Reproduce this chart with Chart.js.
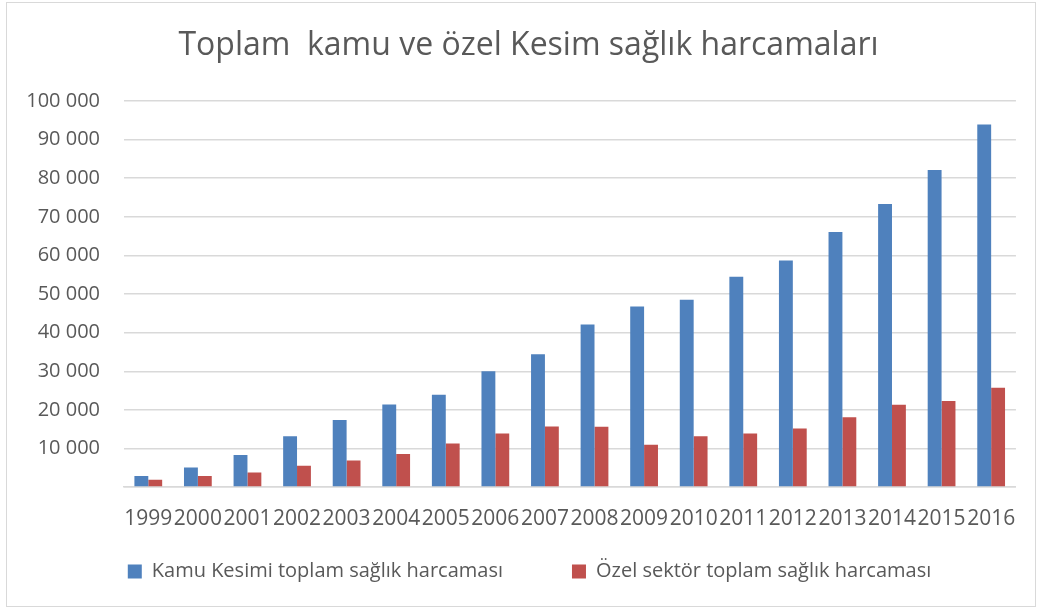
<!DOCTYPE html>
<html>
<head>
<meta charset="utf-8">
<script src="https://cdn.jsdelivr.net/npm/chart.js@4"></script>
<style>
  body { margin: 0; background: #fff; }
  #box { position: absolute; left: 6px; top: 2px; width: 1028px; height: 603px; border: 1px solid #d9d9d9; }
</style>
</head>
<body>
<div id="box"><canvas id="c" width="1028" height="603"></canvas></div>
<script>
// veriler
const years = ["1999","2000","2001","2002","2003","2004","2005","2006","2007","2008","2009","2010","2011","2012","2013","2014","2015","2016"];
const kamu = [2900, 5050, 8300, 13200, 17400, 21400, 23900, 30000, 34400, 42100, 46800, 48500, 54500, 58700, 66100, 73300, 82100, 93900];
const ozel = [1900, 2900, 3800, 5500, 6900, 8600, 11300, 13900, 15700, 15600, 11000, 13200, 13900, 15200, 18100, 21300, 22300, 25700];
const seriesNames = ["Kamu Kesimi toplam sağlık harcaması", "Özel sektör toplam sağlık harcaması"];
const chartTitle = "Toplam  kamu ve özel Kesim sağlık harcamaları";

const txt = "#595959";
const fam = "'Open Sans', sans-serif";

function fmt(v) {
    return String(v).replace(/\B(?=(\d{3})+(?!\d))/g, " ");
}

// legend ve başlığı biraz kaydır (Excel yerleşimine yakın olsun)
const nudge = {
    id: "nudge",
    afterLayout(chart) {
        const lg = chart.legend;
        lg.top -= 36; lg.bottom -= 36;
        lg.left += 11; lg.right += 11;
        const t = chart.titleBlock;
        t.left += 10; t.right += 10;
    }
};

new Chart(document.getElementById("c"), {
    type: "bar",
    data: {
        labels: years,
        datasets: [
            { label: seriesNames[0], data: kamu, backgroundColor: "#4f81bd" },
            { label: seriesNames[1], data: ozel, backgroundColor: "#c0504d" }
        ]
    },
    options: {
        responsive: false,
        animation: false,
        categoryPercentage: 0.56,
        barPercentage: 1.0,
        layout: { padding: { left: 7, right: 12, top: 0, bottom: -21.6 } },
        plugins: {
            title: {
                display: true,
                text: chartTitle,
                color: txt,
                font: { family: fam, size: 32, weight: "normal" },
                padding: { top: 24, bottom: 35.6 }
            },
            legend: {
                position: "bottom",
                labels: {
                    color: txt,
                    font: { family: fam, size: 20 },
                    boxWidth: 14,
                    boxHeight: 14,
                    padding: 69
                }
            },
            tooltip: { enabled: false }
        },
        scales: {
            x: {
                grid: { display: false, drawTicks: false },
                border: { color: "#d9d9d9", width: 1.5 },
                ticks: { color: txt, font: { family: fam, size: 21 }, padding: 19.5, maxRotation: 0, autoSkip: false },
                afterFit: (s) => { s.height = 41.5; }
            },
            y: {
                min: 0,
                max: 100000,
                grid: { color: "#d9d9d9", lineWidth: 1.5, drawTicks: false },
                border: { display: false },
                ticks: {
                    stepSize: 10000,
                    color: txt,
                    font: { family: fam, size: 20 },
                    padding: 23.5,
                    callback: (v) => v === 0 ? "" : fmt(v)
                },
                afterFit: (s) => { s.width = 109.5; }
            }
        }
    },
    plugins: [nudge]
});
</script>
</body>
</html>
